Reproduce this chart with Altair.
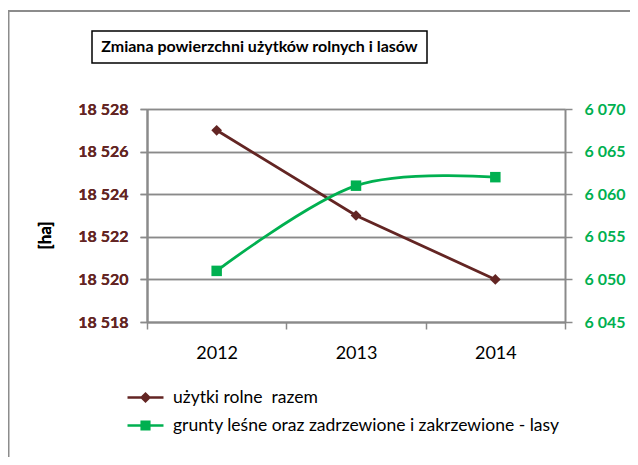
import altair as alt
import pandas as pd

# ---- data ----
years = ["2012", "2013", "2014"]
uzytki_rolne = [18527, 18523, 18520]
lasy = [6051, 6061, 6062]
series_names = ["użytki rolne\u00a0 razem",
                "grunty leśne oraz zadrzewione i zakrzewione - lasy"]
left_ticks = [18518, 18520, 18522, 18524, 18526, 18528]
right_ticks = [6045, 6050, 6055, 6060, 6065, 6070]
chart_title = "Zmiana powierzchni użytków rolnych i lasów"
y_title = "[ha]"

BROWN = "#632523"
GREEN = "#00B050"
GRID = "#8a8a8a"
FONT = "Lato"

rows = []
for y, v in zip(years, uzytki_rolne):
    rows.append({"year": y, "value": v, "series": series_names[0]})
for y, v in zip(years, lasy):
    rows.append({"year": y, "value": v, "series": series_names[1]})
df = pd.DataFrame(rows)

W, H = 418, 213

x_enc = alt.X("year:N", sort=years,
              scale=alt.Scale(paddingInner=0, paddingOuter=0),
              axis=alt.Axis(title=None, labelAngle=0, labelFontSize=18,
                            labelColor="black", labelPadding=15,
                            tickBand="extent", tickSize=7, tickColor=GRID,
                            tickWidth=1.5, domainColor=GRID, domainWidth=2,
                            grid=False))

y_left = alt.Y("value:Q",
               scale=alt.Scale(domain=[left_ticks[0], left_ticks[-1]], nice=False, zero=False),
               axis=alt.Axis(values=left_ticks, orient="left",
                             labelExpr="replace(format(datum.value, ',d'), ',', ' ')",
                             labelColor=BROWN, labelFontWeight="bold", labelFontSize=16,
                             labelPadding=12, tickSize=7, tickColor=GRID, tickWidth=1.5,
                             domainColor=GRID, domainWidth=2,
                             grid=True, gridColor=GRID, gridWidth=1.5,
                             title=y_title, titleFontSize=17, titleFontWeight="bold",
                             titleColor="black", titleX=-102, titleY=126,
                             titleBaseline="middle", titleAlign="center"))

y_right = alt.Y("value:Q",
                scale=alt.Scale(domain=[right_ticks[0], right_ticks[-1]], nice=False, zero=False),
                axis=alt.Axis(values=right_ticks, orient="right",
                              labelExpr="replace(format(datum.value, ',d'), ',', ' ')",
                              labelColor=GREEN, labelFontWeight="bold", labelFontSize=16,
                              labelPadding=12, tickSize=7, tickColor=GRID, tickWidth=1.5,
                              domainColor=GRID, domainWidth=2, grid=False, title=None))

base = alt.Chart(df)

line_a = base.transform_filter(alt.datum.series == series_names[0]).mark_line(
    color=BROWN, strokeWidth=2.8).encode(x=x_enc, y=y_left)
pts_a = base.transform_filter(alt.datum.series == series_names[0]).mark_point(
    shape="diamond", filled=True, size=115, color=BROWN, opacity=1).encode(x=x_enc, y=y_left)

# legend-only layer (no rows drawn)
path_a = "M-1.6,-0.11H1.6V0.11H-1.6Z M0,-0.5L0.5,0L0,0.5L-0.5,0Z"
path_b = "M-1.6,-0.11H1.6V0.11H-1.6Z M-0.45,-0.45H0.45V0.45H-0.45Z"
leg = alt.Legend(title=None, orient="none", legendX=-13, legendY=277,
                 symbolSize=506, labelFontSize=17.5, labelColor="black",
                 labelOffset=16, rowPadding=8, symbolStrokeWidth=0,
                 labelLimit=600)
legend_layer = base.transform_filter("false").mark_point(filled=True, opacity=1).encode(
    x=x_enc, y=y_left,
    color=alt.Color("series:N", scale=alt.Scale(domain=series_names, range=[BROWN, GREEN]), legend=leg),
    shape=alt.Shape("series:N", scale=alt.Scale(domain=series_names, range=[path_a, path_b]), legend=leg),
)

line_b = base.transform_filter(alt.datum.series == series_names[1]).mark_line(
    color=GREEN, strokeWidth=2.8, interpolate="cardinal").encode(x=x_enc, y=y_right)
pts_b = base.transform_filter(alt.datum.series == series_names[1]).mark_point(
    shape="square", filled=True, size=110, color=GREEN, opacity=1).encode(x=x_enc, y=y_right)

one = alt.Data(values=[{"t": chart_title}])
# outer chart frame (decoration)
frame_left = alt.Chart(one).mark_rule(color="#8c8c8c", strokeWidth=2).encode(
    x=alt.value(-138.5), y=alt.value(-98), y2=alt.value(360))
frame_top = alt.Chart(one).mark_rule(color="#8c8c8c", strokeWidth=2).encode(
    x=alt.value(-139.5), x2=alt.value(495), y=alt.value(-98))
# title box
title_box = alt.Chart(one).mark_rect(fill="white", stroke="black", strokeWidth=1.5).encode(
    x=alt.value(-55), x2=alt.value(280), y=alt.value(-78), y2=alt.value(-46))
title_text = alt.Chart(one).mark_text(fontSize=16, fontWeight="bold", color="black",
                                      font=FONT, align="center", baseline="middle").encode(
    text="t:N", x=alt.value(112.5), y=alt.value(-62))

left = alt.layer(line_a, legend_layer)
right = alt.layer(line_b, pts_b)

chart = alt.layer(
    frame_left, frame_top, title_box, title_text,
    left, right, pts_a
).resolve_scale(y="independent").properties(
    width=W, height=H,
    autosize=alt.AutoSizeParams(type="none"),
    padding={"left": 139, "top": 101, "right": 65, "bottom": 135},
    background="white",
).configure(font=FONT).configure_view(stroke=None)

chart.save("out.html", embed_options={"renderer": "svg", "actions": False})
